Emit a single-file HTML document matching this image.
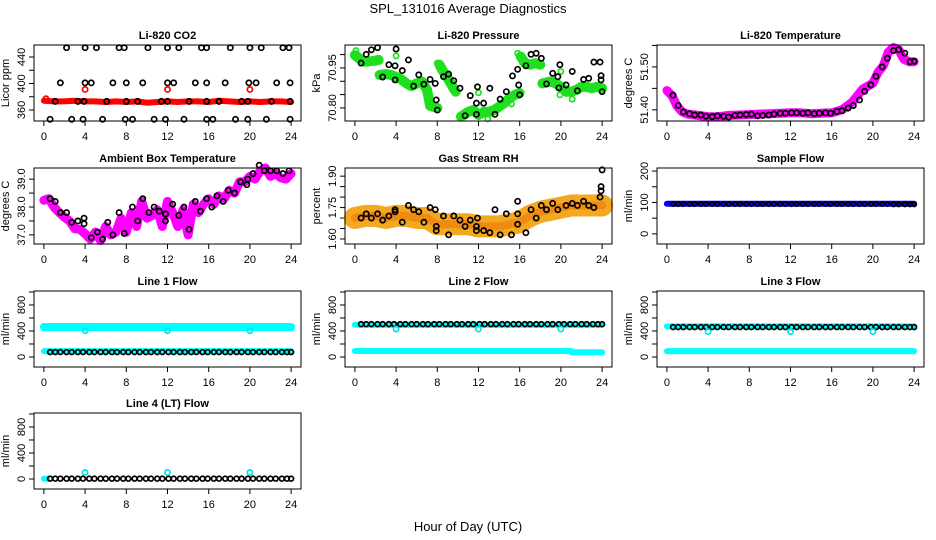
<!DOCTYPE html>
<html><head><meta charset="utf-8"><style>
html,body{margin:0;padding:0;background:#fff;}
svg{display:block;font-family:"Liberation Sans",Arial,sans-serif;}
</style></head><body>
<svg id="chart" width="936" height="540" viewBox="0 0 936 540">
<rect width="936" height="540" fill="#fff"/>
<text x="468" y="13" text-anchor="middle" font-size="13">SPL_131016  Average Diagnostics</text>
<text x="468" y="531" text-anchor="middle" font-size="13">Hour of Day (UTC)</text>
</svg>
<script>
// ---- shared data ----
const xTicks = [0,4,8,12,16,20,24];
const circleHours = [0.6,1.1,1.6,2.2,2.7,3.3,3.8,4.4,4.9,5.5,6.0,6.6,7.1,7.7,8.2,8.8,9.3,9.9,10.4,11.0,11.5,12.1,12.6,13.2,13.7,14.3,14.8,15.4,15.9,16.5,17.0,17.6,18.1,18.7,19.2,19.8,20.3,20.9,21.4,22.0,22.5,23.1,23.6,24.0];

// CO2
const co2BandH = [0,1,2,3,4,5,6,7,8,9,10,11,12,13,14,15,16,17,18,19,20,21,22,23,24];
const co2BandV = [374,373,373,374,373,373,372,373,372,373,371,372,373,372,373,373,372,374,373,372,373,372,373,373,372];
const co2RedH = [0.2,4,12,20];
const co2RedV = [377,391,391,391];
const co2BlkH = [2.2,4,5.1,7.3,7.8,10.1,12,13.1,15.3,15.8,18.1,20,21.1,23.2,23.8, 1.6,4,4.6,6.7,8,9.6,12,12.6,14.7,15.8,17.6,19.9,20.6,22.6,23.9, 1.1,3.3,3.9,6.1,8,9.1,11.4,12,14.1,15.8,17,19.2,19.8,22.1,23.9, 0.6,2.7,3.8,5.7,7.9,8.6,10.7,11.8,13.6,15.8,16.4,18.6,19.8,21.6,23.9];
const co2BlkV = [454,454,454,454,454,454,454,454,454,454,454,454,454,454,454, 401,401,401,401,401,401,401,401,401,401,401,401,401,401,401, 373,373,373,373,373,373,373,373,373,373,373,373,373,373,373, 346,346,346,346,346,346,346,346,346,346,346,346,346,346,346];

// Pressure
const prsBandH = [0,0.5,1,2,2.3,null,2.4,3,3.5,4,4.5,5,5.5,6,6.5,7,7.3,8,null,8.2,8.5,9,9.5,9.8,null,10.3,11,11.5,12,12.5,13,13.5,14,14.5,15,15.5,16,null,16.1,16.5,17,17.5,18,null,18.2,19,19.5,20,20.5,21,21.5,22,22.5,23,23.5,24];
const prsBandV = [70.998,70.983,70.973,70.977,70.980,null,70.924,70.927,70.924,70.916,70.907,70.892,70.882,70.892,70.899,70.868,70.808,70.800,null,70.962,70.942,70.912,70.879,70.861,null,70.767,70.785,70.792,70.774,70.785,70.785,70.792,70.805,70.818,70.836,70.849,70.856,null,70.993,70.968,70.962,70.968,70.962,null,70.892,70.899,70.892,70.879,70.861,70.861,70.868,70.879,70.879,70.874,70.879,70.874];
const prsGrnH = [0.1,4,8,12,12.9,15.2,15.8,20,21.1,19.9];
const prsGrnV = [71.015,70.995,70.968,70.857,70.759,70.815,71.005,70.937,70.833,70.849];
const prsBlkH = [0.6,1.1,1.6,2.2,2.7,3.3,3.9,3.9,4,4.6,5.2,5.7,6.2,6.7,7.3,7.8,7.9,8,8.6,9.1,9.6,10.2,10.7,11.2,11.8,11.9,11.8,12.5,13.1,13.6,14.1,14.7,15.3,15.8,15.9,16,16.6,17.1,17.6,18.1,18.6,19.2,19.7,19.8,19.9,20.5,21.1,21.6,22.2,22.7,23.2,23.8,23.9,23.9,24];
const prsBlkV = [70.968,71.001,71.018,71.026,70.916,70.962,70.905,70.958,71.021,70.940,70.980,70.882,70.924,70.889,70.907,70.892,70.830,70.792,70.917,70.927,70.902,70.874,70.771,70.846,70.818,70.879,70.776,70.818,70.874,70.776,70.833,70.861,70.920,70.945,70.886,70.849,70.958,71.001,71.005,70.986,70.890,70.930,70.917,70.875,70.962,70.886,70.937,70.864,70.907,70.911,70.972,70.972,70.905,70.921,70.861];

// Li-820 temperature
const ltBandH = [0,0.5,1,1.5,2,3,4,5,6,7,8,9,10,11,12,13,14,15,16,17,18,19,20,20.5,21,21.5,22,22.5,23,23.5,24];
const ltBandV = [51.445,51.433,51.408,51.395,51.390,51.387,51.384,51.384,51.387,51.388,51.389,51.390,51.391,51.392,51.393,51.393,51.391,51.392,51.393,51.400,51.418,51.448,51.462,51.488,51.502,51.535,51.545,51.540,51.518,51.512,51.512];
const ltBlkV = [51.434,51.410,51.395,51.391,51.388,51.388,51.385,51.384,51.386,51.385,51.383,51.387,51.388,51.389,51.390,51.386,51.387,51.388,51.390,51.392,51.392,51.393,51.393,51.392,51.393,51.391,51.392,51.393,51.392,51.396,51.398,51.404,51.410,51.423,51.443,51.458,51.478,51.500,51.520,51.538,51.540,51.532,51.512,51.513];

// Ambient box temperature
const ambBandH = [0,0.5,1,1.5,2,2.5,3,3.5,4,4.5,5,5.5,6,6.5,7,7.5,8,8.5,9,9.5,10,10.5,11,11.5,12,12.5,13,13.5,14,14.5,15,15.5,16,16.5,17,17.5,18,18.5,19,19.5,20,20.5,21,21.5,22,22.5,23,23.5,24];
const ambBandV = [38.24,38.3,37.99,37.8,37.63,37.5,37.22,37.2,37.04,36.85,37.1,36.8,37.3,37.0,37.1,37.6,37.1,37.8,37.3,38.2,37.6,37.7,37.9,37.3,38.2,37.8,37.3,37.9,37.0,38.1,37.8,38.1,38.3,38.1,38.4,38.3,38.6,38.5,38.9,38.9,39.1,39.0,39.3,39.4,39.1,39.2,39.05,39.0,39.2];
const ambBlkH = [0.6,1.1,1.6,2.2,2.7,3.3,3.9,3.9,4.6,5.2,5.7,6.2,6.7,7.3,7.8,8.6,9.1,9.6,10.2,10.7,11.2,11.8,11.8,12.5,13.1,13.6,14.1,14.7,15.2,15.8,16.3,16.8,17.4,17.9,18.5,19.1,19.7,19.8,20.3,20.9,21.4,22,22.6,23.2,23.8];
const ambBlkV = [38.3,38.2,37.8,37.8,37.45,37.5,37.4,37.6,36.9,37.1,36.85,37.45,37.0,37.8,37.05,38.0,37.5,38.3,37.8,38.0,37.85,37.5,37.75,38.1,37.7,38.0,37.2,38.2,37.85,38.3,38.0,38.4,38.2,38.6,38.5,38.9,38.8,39.0,39.2,39.5,39.3,39.3,39.3,39.2,39.3];

// Gas stream RH
const rhBandH = [0,1,2,3,4,5,6,7,8,9,10,11,12,13,14,15,16,17,18,19,20,21,22,23,24];
const rhBandV = [1.70,1.71,1.71,1.70,1.71,1.71,1.70,1.70,1.67,1.67,1.67,1.67,1.66,1.66,1.66,1.67,1.68,1.71,1.73,1.74,1.75,1.76,1.76,1.76,1.76];
const rhBlkH = [0.6,1.1,1.6,2.2,2.7,3.3,3.9,3.9,4.6,5.2,5.7,6.2,6.7,7.3,7.8,7.9,7.9,8.6,9.1,9.6,10.2,10.7,11.2,11.8,11.9,11.8,12.5,13.1,13.6,14.1,14.7,15.2,15.8,15.8,15.8,16.6,17.1,17.6,18.1,18.6,19.2,19.7,20.5,21.1,21.6,22.2,22.7,23.2,23.8,23.9,23.9,24];
const rhBlkV = [1.70,1.72,1.70,1.72,1.69,1.71,1.73,1.74,1.68,1.76,1.74,1.73,1.68,1.75,1.74,1.66,1.64,1.71,1.62,1.71,1.69,1.66,1.69,1.66,1.70,1.64,1.64,1.63,1.74,1.62,1.72,1.62,1.78,1.67,1.72,1.63,1.74,1.70,1.76,1.74,1.77,1.74,1.76,1.77,1.76,1.78,1.76,1.75,1.80,1.83,1.85,1.93];

// Sample flow
const sfBandH = [0,24];
const sfBandV = [96,96];
const sfBlkV = [95,95,95,95,95,95,95,95,95,95,95,95,95,95,95,95,95,95,95,95,95,95,95,95,95,95,95,95,95,95,95,95,95,95,95,95,95,95,95,94,94,94,94,94];

// Line flows
const l1HiH = [0,24]; const l1HiV = [462,462];
const l1LoH = [0,24]; const l1LoV = [90,90];
const l1BlkV = [75,75,75,75,75,75,75,75,75,75,75,75,75,75,75,75,75,75,75,75,75,75,75,75,75,75,75,75,75,75,75,75,75,75,75,75,75,75,75,75,75,75,75,75];
const spikeH = [4,12,20];
const l1SpikeV = [405,405,405];
const l2HiH = [0,24]; const l2HiV = [495,495];
const l2LoH = [0,21,21,24]; const l2LoV = [92,92,72,72];
const l2BlkV = [505,505,505,505,505,505,505,505,505,505,505,505,505,505,505,505,505,505,505,505,505,505,505,505,505,505,505,505,505,505,505,505,505,505,505,505,505,505,505,505,505,505,505,505];
const l2SpikeV = [430,430,430];
const l3HiH = [0,24]; const l3HiV = [470,470];
const l3LoH = [0,24]; const l3LoV = [90,90];
const l3BlkV = [460,460,460,460,460,460,460,460,460,460,460,460,460,460,460,460,460,460,460,460,460,460,460,460,460,460,460,460,460,460,460,460,460,460,460,460,460,460,460,460,460,460,460,460];
const l3SpikeV = [390,390,390];
const l4HiH = [0,0.3]; const l4HiV = [5,5];
const l4BlkV = [5,5,5,5,5,5,5,5,5,5,5,5,5,5,5,5,5,5,5,5,5,5,5,5,5,5,5,5,5,5,5,5,5,5,5,5,5,5,5,5,5,5,5,5];
const l4SpikeV = [100,100,100];

// ---- drawing ----
const svg = document.getElementById('chart');
const NS = 'http://www.w3.org/2000/svg';
const colX = [34,345,657], rowY = [45,168,291,413], PW = 267, PH = 76;
const XMIN = -0.96, XMAX = 24.96;
function mk(tag, attrs, parent){
  const e = document.createElementNS(NS, tag);
  for (const k in attrs) e.setAttribute(k, attrs[k]);
  (parent||svg).appendChild(e); return e;
}
function makePanel(key, title, ytitle, col, row, ymin, ymax, yTicks, yLabels){
  const x0 = colX[col], y0 = rowY[row];
  const g = mk('g', {});
  
  
  const sx = h => x0 + (h - XMIN) / (XMAX - XMIN) * PW;
  const sy = v => y0 + PH - (v - ymin) / (ymax - ymin) * PH;
  const t = mk('text', {x: x0 + PW/2, y: y0 - 6, 'text-anchor':'middle', 'font-size':11, 'font-weight':'bold'}, g);
  t.textContent = title;
  
  
  const yt = mk('text', {x: 0, y: 0, 'text-anchor':'middle', 'font-size':11, transform:`translate(${x0-25},${y0+PH/2}) rotate(-90)`}, g);
  yt.textContent = ytitle;
  
  
  xTicks.forEach(v => {
    const X = sx(v);
    const tk = mk('line', {x1:X, x2:X, y1:y0+PH, y2:y0+PH+5, stroke:'#000', 'stroke-width':1}, g);
    
    
    const lb = mk('text', {x:X, y:y0+PH+19, 'text-anchor':'middle', 'font-size':11}, g);
    lb.textContent = v;
    
    
  });
  yTicks.forEach((v,i) => {
    const Y = sy(v);
    const tk = mk('line', {x1:x0-5, x2:x0, y1:Y, y2:Y, stroke:'#000', 'stroke-width':1}, g);
    
    
    if (yLabels[i]) {
      const lb = mk('text', {x:0, y:0, 'text-anchor':'middle', 'font-size':11, transform:`translate(${x0-9},${Y}) rotate(-90)`}, g);
      lb.textContent = yLabels[i];
      
      
    }
  });
  const plot = mk('g', {}, g);
  const box = mk('rect', {x:x0, y:y0, width:PW, height:PH, fill:'none', stroke:'#000', 'stroke-width':1}, g);
  
  
  return {
    band(hs, vs, color, w, name){
      let pts = [];
      const flush = () => {
        if (pts.length) {
          const pl = mk('polyline', {points: pts.join(' '), fill:'none', stroke:color, 'stroke-width':w, 'stroke-linejoin':'round', 'stroke-linecap':'round'}, plot);
          
          
        }
        pts = [];
      };
      hs.forEach((h,i) => { if (h === null || vs[i] === null) flush(); else pts.push(sx(h).toFixed(1)+','+sy(vs[i]).toFixed(1)); });
      flush();
    },
    pts(hs, vs, color, name, r){
      hs.forEach((h,i) => {
        const c = mk('circle', {cx:sx(h), cy:sy(vs[i]), r:r||2.6, fill:'none', stroke:color, 'stroke-width':1.7}, plot);
        
        
      });
    }
  };
}
const fTicks = [0,200,400,600,800,1000], fLabels = ['0','','400','','800',''];

let p = makePanel('li820-co2', 'Li-820 CO2', 'Licor ppm', 0, 0, 343.4, 458.1, [360,380,400,420,440], ['360','','400','','440']);
p.band(co2BandH, co2BandV, '#ff0000', 6, 'co2-band');
p.pts(co2RedH, co2RedV, '#ff0000', 'co2-red-point');
p.pts(co2BlkH, co2BlkV, '#000', 'co2-average-point');

p = makePanel('li820-pressure', 'Li-820 Pressure', 'kPa', 1, 0, 70.751, 71.036, [70.80,70.85,70.90,70.95,71.00], ['70.80','','','70.95','']);
p.band(prsBandH, prsBandV, '#1ee01e', 10, 'pressure-band');
p.pts(prsGrnH, prsGrnV, '#1ee01e', 'pressure-green-point');
p.pts(prsBlkH, prsBlkV, '#000', 'pressure-average-point');

p = makePanel('li820-temperature', 'Li-820 Temperature', 'degrees C', 2, 0, 51.374, 51.551, [51.40,51.45,51.50,51.55], ['51.40','','51.50','']);
p.band(ltBandH, ltBandV, '#ff00ff', 9, 'li-temp-band');
p.pts(circleHours, ltBlkV, '#000', 'li-temp-average-point');

p = makePanel('ambient-box-temp', 'Ambient Box Temperature', 'degrees C', 0, 1, 36.673, 39.40, [37.0,37.5,38.0,38.5,39.0], ['37.0','','38.0','','39.0']);
p.band(ambBandH, ambBandV, '#ff00ff', 9, 'ambient-temp-band');
p.pts(ambBlkH, ambBlkV, '#000', 'ambient-temp-average-point');

p = makePanel('gas-stream-rh', 'Gas Stream RH', 'percent', 1, 1, 1.576, 1.939, [1.60,1.65,1.70,1.75,1.80,1.85,1.90], ['1.60','','','1.75','','','1.90']);
p.band(rhBandH, rhBandV, '#f4a820', 22, 'rh-band');
p.band(rhBandH, rhBandV, '#f08a10', 8, 'rh-band-core');
p.pts(rhBlkH, rhBlkV, '#000', 'rh-average-point');

p = makePanel('sample-flow', 'Sample Flow', 'ml/min', 2, 1, -32.3, 209.7, [0,50,100,150,200], ['0','','100','','200']);
p.band(sfBandH, sfBandV, '#0000ff', 6, 'sample-flow-band');
p.pts(circleHours, sfBlkV, '#000', 'sample-flow-average-point', 2.2);

p = makePanel('line1-flow', 'Line 1 Flow', 'ml/min', 0, 2, -154, 1015, fTicks, fLabels);
p.band(l1HiH, l1HiV, '#00ffff', 8, 'line1-high-band');
p.band(l1LoH, l1LoV, '#00ffff', 6, 'line1-low-band');
p.pts(circleHours, l1BlkV, '#000', 'line1-average-point', 2.4);
p.pts(spikeH, l1SpikeV, '#00e5e5', 'line1-spike-point');

p = makePanel('line2-flow', 'Line 2 Flow', 'ml/min', 1, 2, -154, 1015, fTicks, fLabels);
p.band(l2HiH, l2HiV, '#00ffff', 6, 'line2-high-band');
p.band(l2LoH, l2LoV, '#00ffff', 6, 'line2-low-band');
p.pts(circleHours, l2BlkV, '#000', 'line2-average-point', 2.4);
p.pts(spikeH, l2SpikeV, '#00e5e5', 'line2-spike-point');

p = makePanel('line3-flow', 'Line 3 Flow', 'ml/min', 2, 2, -154, 1015, fTicks, fLabels);
p.band(l3HiH, l3HiV, '#00ffff', 6, 'line3-high-band');
p.band(l3LoH, l3LoV, '#00ffff', 6, 'line3-low-band');
p.pts(circleHours, l3BlkV, '#000', 'line3-average-point', 2.4);
p.pts(spikeH, l3SpikeV, '#00e5e5', 'line3-spike-point');

p = makePanel('line4-flow', 'Line 4 (LT) Flow', 'ml/min', 0, 3, -154, 1015, fTicks, fLabels);
p.band(l4HiH, l4HiV, '#00ffff', 6, 'line4-band');
p.pts(circleHours, l4BlkV, '#000', 'line4-average-point', 2.4);
p.pts(spikeH, l4SpikeV, '#00e5e5', 'line4-spike-point');
</script>
</body></html>
